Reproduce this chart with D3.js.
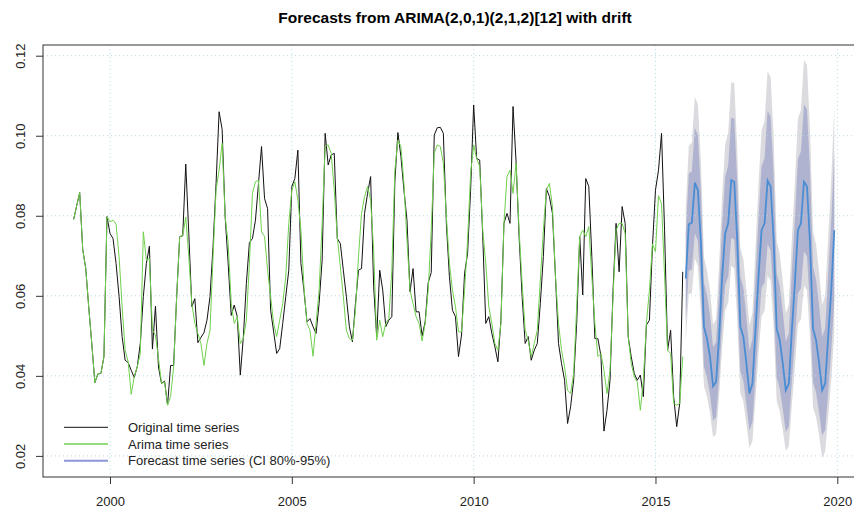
<!DOCTYPE html>
<html>
<head>
<meta charset="utf-8">
<script src="https://cdn.jsdelivr.net/npm/d3@7"></script>
<style>
  body { margin: 0; background: #ffffff; }
  svg { display: block; }
  text { font-family: "Liberation Sans", Arial, Helvetica, sans-serif; }
</style>
</head>
<body>
<svg id="chart" width="854" height="508"></svg>
<script>
// Monthly series, January 1999 onwards
const startYear = 1999;
const observed = [
  0.0791,0.0825,0.0858,0.0716,0.0668,0.0570,0.0480,0.0383,0.0405,0.0406,0.0448,0.0798,
  0.0756,0.0743,0.0681,0.0598,0.0498,0.0439,0.0433,0.0414,0.0396,0.0423,0.0481,0.0598,
  0.0681,0.0724,0.0467,0.0574,0.0422,0.0381,0.0387,0.0327,0.0426,0.0426,0.0598,0.0748,
  0.0750,0.0929,0.0756,0.0573,0.0593,0.0483,0.0496,0.0508,0.0539,0.0598,0.0723,0.0881,
  0.1060,0.1016,0.0798,0.0680,0.0551,0.0577,0.0548,0.0402,0.0497,0.0631,0.0733,0.0743,
  0.0789,0.0881,0.0973,0.0843,0.0818,0.0564,0.0510,0.0456,0.0468,0.0531,0.0598,0.0664,
  0.0873,0.0893,0.0964,0.0681,0.0614,0.0535,0.0543,0.0523,0.0506,0.0581,0.0689,0.1006,
  0.0927,0.0952,0.0956,0.0743,0.0731,0.0664,0.0598,0.0523,0.0485,0.0581,0.0664,0.0668,
  0.0806,0.0856,0.0898,0.0623,0.0498,0.0664,0.0614,0.0523,0.0539,0.0548,0.0885,0.1008,
  0.0948,0.0864,0.0789,0.0610,0.0668,0.0560,0.0560,0.0500,0.0535,0.0633,0.0658,0.1002,
  0.1020,0.1021,0.1006,0.0781,0.0648,0.0564,0.0548,0.0448,0.0502,0.0656,0.0706,0.0864,
  0.1077,0.0943,0.0939,0.0748,0.0531,0.0548,0.0506,0.0473,0.0435,0.0539,0.0781,0.0806,
  0.0781,0.1073,0.0935,0.0748,0.0598,0.0481,0.0498,0.0439,0.0464,0.0481,0.0581,0.0698,
  0.0868,0.0848,0.0806,0.0648,0.0481,0.0431,0.0389,0.0281,0.0323,0.0389,0.0531,0.0748,
  0.0602,0.0893,0.0873,0.0698,0.0493,0.0493,0.0450,0.0262,0.0314,0.0389,0.0614,0.0781,
  0.0660,0.0823,0.0781,0.0498,0.0448,0.0406,0.0389,0.0402,0.0348,0.0527,0.0539,0.0723,
  0.0864,0.0914,0.1006,0.0764,0.0464,0.0514,0.0348,0.0273,0.0331,0.0660
];
const fitted = [
  0.0791,0.0825,0.0858,0.0716,0.0668,0.0570,0.0480,0.0383,0.0405,0.0406,0.0448,0.0798,
  0.0785,0.0789,0.0779,0.0698,0.0573,0.0464,0.0435,0.0354,0.0398,0.0423,0.0456,0.0760,
  0.0689,0.0693,0.0514,0.0502,0.0443,0.0381,0.0385,0.0327,0.0348,0.0422,0.0598,0.0748,
  0.0750,0.0797,0.0698,0.0581,0.0531,0.0506,0.0481,0.0426,0.0481,0.0514,0.0698,0.0864,
  0.0914,0.0981,0.0798,0.0731,0.0581,0.0531,0.0548,0.0481,0.0493,0.0539,0.0680,0.0856,
  0.0885,0.0889,0.0760,0.0748,0.0664,0.0598,0.0531,0.0498,0.0539,0.0581,0.0648,0.0781,
  0.0864,0.0885,0.0839,0.0764,0.0623,0.0531,0.0514,0.0449,0.0531,0.0614,0.0781,0.0973,
  0.0977,0.0956,0.0864,0.0748,0.0673,0.0598,0.0514,0.0493,0.0489,0.0564,0.0698,0.0806,
  0.0848,0.0873,0.0839,0.0714,0.0489,0.0539,0.0498,0.0531,0.0543,0.0664,0.0914,0.0989,
  0.0973,0.0881,0.0739,0.0614,0.0581,0.0548,0.0531,0.0487,0.0531,0.0614,0.0764,0.0956,
  0.0977,0.0973,0.0931,0.0798,0.0681,0.0614,0.0573,0.0510,0.0510,0.0614,0.0739,0.0906,
  0.0977,0.0943,0.0923,0.0764,0.0681,0.0573,0.0531,0.0481,0.0464,0.0531,0.0781,0.0898,
  0.0914,0.0856,0.0931,0.0764,0.0631,0.0514,0.0489,0.0448,0.0481,0.0514,0.0639,0.0764,
  0.0864,0.0881,0.0823,0.0648,0.0531,0.0464,0.0423,0.0364,0.0356,0.0406,0.0573,0.0748,
  0.0764,0.0748,0.0773,0.0648,0.0531,0.0448,0.0456,0.0414,0.0356,0.0414,0.0598,0.0764,
  0.0781,0.0781,0.0756,0.0498,0.0431,0.0398,0.0385,0.0314,0.0389,0.0531,0.0614,0.0730,
  0.0710,0.0850,0.0830,0.0650,0.0464,0.0456,0.0331,0.0327,0.0331,0.0448
];

// Forecast, November 2015 to December 2019
const fcStart = 2015 + 10 / 12;
const fcMean = [
  0.0643,0.0779,
  0.0783,0.0883,0.0864,0.0731,0.0523,0.0493,0.0448,0.0374,0.0385,0.0498,0.0648,0.0756,
  0.0781,0.0889,0.0885,0.0735,0.0523,0.0498,0.0431,0.0356,0.0381,0.0514,0.0648,0.0764,
  0.0781,0.0888,0.0873,0.0739,0.0518,0.0489,0.0431,0.0364,0.0381,0.0514,0.0631,0.0764,
  0.0781,0.0885,0.0873,0.0731,0.0518,0.0489,0.0431,0.0364,0.0381,0.0498,0.0614,0.0764
];
const lo80 = [
  0.0539,0.0663,
  0.0665,0.0756,0.0737,0.0613,0.0423,0.0395,0.0354,0.0288,0.0297,0.0396,0.0530,0.0627,
  0.0648,0.0745,0.0740,0.0603,0.0412,0.0388,0.0329,0.0263,0.0284,0.0399,0.0517,0.0620,
  0.0633,0.0729,0.0714,0.0592,0.0396,0.0369,0.0318,0.0260,0.0274,0.0387,0.0488,0.0605,
  0.0619,0.0711,0.0699,0.0571,0.0384,0.0358,0.0308,0.0251,0.0264,0.0362,0.0461,0.0591
];
const hi80 = [
  0.0757,0.0905,
  0.0911,0.1020,0.1001,0.0859,0.0633,0.0601,0.0553,0.0471,0.0485,0.0612,0.0778,0.0897,
  0.0926,0.1045,0.1043,0.0881,0.0648,0.0621,0.0547,0.0463,0.0493,0.0644,0.0795,0.0924,
  0.0944,0.1063,0.1048,0.0902,0.0657,0.0626,0.0561,0.0485,0.0506,0.0659,0.0792,0.0941,
  0.0961,0.1078,0.1067,0.0911,0.0672,0.0640,0.0575,0.0498,0.0519,0.0655,0.0788,0.0959
];
const lo95 = [
  0.0487,0.0605,
  0.0606,0.0693,0.0674,0.0555,0.0374,0.0348,0.0308,0.0247,0.0255,0.0347,0.0472,0.0563,
  0.0583,0.0675,0.0669,0.0538,0.0358,0.0336,0.0280,0.0219,0.0238,0.0344,0.0453,0.0549,
  0.0562,0.0651,0.0637,0.0521,0.0337,0.0312,0.0265,0.0213,0.0224,0.0328,0.0420,0.0529,
  0.0541,0.0626,0.0614,0.0495,0.0321,0.0297,0.0251,0.0195,0.0211,0.0299,0.0389,0.0509
];
const hi95 = [
  0.0821,0.0975,
  0.0983,0.1097,0.1078,0.0931,0.0696,0.0663,0.0613,0.0528,0.0542,0.0677,0.0852,0.0977,
  0.1008,0.1133,0.1132,0.0963,0.0719,0.0692,0.0614,0.0526,0.0558,0.0718,0.0878,0.1014,
  0.1037,0.1161,0.1146,0.0995,0.0737,0.0705,0.0637,0.0556,0.0579,0.0742,0.0884,0.1043,
  0.1065,0.1189,0.1177,0.1014,0.0761,0.0728,0.0659,0.0577,0.0601,0.0747,0.0890,0.1071
];

const xTicks = [2000, 2005, 2010, 2015, 2020];
const yTicks = [0.02, 0.04, 0.06, 0.08, 0.10, 0.12];
const legendLabels = ["Original time series", "Arima time series", "Forecast time series (CI 80%-95%)"];
const title = "Forecasts from ARIMA(2,0,1)(2,1,2)[12] with drift";

const colObs = "#111111", colFit = "#6fd04d", colFc = "#4a8dd3";
const col80 = "#b0b3d0", col95 = "#dadadf", colLegFc = "#8e96d8";
const colGrid = "#b3d9e6";

const box = { left: 43, top: 45, right: 867, bottom: 477 };
const svg = d3.select("#chart");

const x = d3.scaleLinear().domain([2000, 2020]).range([110, 837.3]);
const y = d3.scaleLinear().domain([0.02, 0.12]).range([455.9, 55.7]);

// Title
svg.append("text")
  .attr("x", (box.left + box.right) / 2).attr("y", 22.5)
  .attr("text-anchor", "middle")
  .style("font-weight", "bold").style("font-size", "15.5px")
  .text(title);

svg.append("clipPath").attr("id", "plotclip")
  .append("rect").attr("x", box.left).attr("y", box.top)
  .attr("width", box.right - box.left).attr("height", box.bottom - box.top);

const plot = svg.append("g").attr("clip-path", "url(#plotclip)");

// Prediction intervals
const fcT = i => fcStart + i / 12;
plot.append("path")
  .attr("d", d3.area().x((d, i) => x(fcT(i))).y0((d, i) => y(lo95[i])).y1((d, i) => y(hi95[i]))(fcMean))
  .attr("fill", col95);
plot.append("path")
  .attr("d", d3.area().x((d, i) => x(fcT(i))).y0((d, i) => y(lo80[i])).y1((d, i) => y(hi80[i]))(fcMean))
  .attr("fill", col80);

// Dotted grid
const grid = plot.append("g").attr("stroke", colGrid).attr("stroke-width", 1).attr("stroke-dasharray", "1,3");
grid.selectAll("line.v").data(xTicks).join("line")
  .attr("x1", d => x(d)).attr("x2", d => x(d)).attr("y1", box.top).attr("y2", box.bottom);
grid.selectAll("line.h").data(yTicks).join("line")
  .attr("y1", d => y(d)).attr("y2", d => y(d)).attr("x1", box.left).attr("x2", box.right);

// Series lines
const obsLine = d3.line().x((d, i) => x(startYear + i / 12)).y(d => y(d));
plot.append("path").attr("d", obsLine(observed))
  .attr("fill", "none").attr("stroke", colObs).attr("stroke-width", 1);
plot.append("path").attr("d", obsLine(fitted))
  .attr("fill", "none").attr("stroke", colFit).attr("stroke-width", 1);
plot.append("path").attr("d", d3.line().x((d, i) => x(fcT(i))).y(d => y(d))(fcMean))
  .attr("fill", "none").attr("stroke", colFc).attr("stroke-width", 1.8);

// Frame
svg.append("rect").attr("x", box.left).attr("y", box.top)
  .attr("width", box.right - box.left).attr("height", box.bottom - box.top)
  .attr("fill", "none").attr("stroke", "#333333").attr("stroke-width", 1);

// Axes
const xAxis = svg.append("g").attr("transform", `translate(0,${box.bottom})`)
  .call(d3.axisBottom(x).tickValues(xTicks).tickSize(7).tickPadding(13).tickFormat(d3.format("d")));
const yAxis = svg.append("g").attr("transform", `translate(${box.left},0)`)
  .call(d3.axisLeft(y).tickValues(yTicks).tickSize(7).tickFormat(d3.format(".2f")));
[xAxis, yAxis].forEach(a => {
  a.select(".domain").remove();
  a.selectAll(".tick line").attr("stroke", "#333333");
  a.selectAll(".tick text").attr("fill", "#222222").style("font-size", "13px")
    .style("font-family", "'Liberation Sans', Arial, sans-serif");
});
yAxis.selectAll(".tick text")
  .attr("x", null).attr("dy", null)
  .attr("text-anchor", "middle")
  .attr("transform", "translate(-18,0) rotate(-90)");

// Legend
const legColors = [colObs, colFit, colLegFc];
const legWidths = [1, 1.5, 2];
const leg = svg.append("g");
legendLabels.forEach((lab, i) => {
  const ly = 427.3 + i * 16.7;
  leg.append("line").attr("x1", 64).attr("x2", 108).attr("y1", ly).attr("y2", ly)
    .attr("stroke", legColors[i]).attr("stroke-width", legWidths[i]);
  leg.append("text").attr("x", 128).attr("y", ly).attr("dy", "0.35em")
    .style("font-size", "13px").attr("fill", "#222222").text(lab);
});
</script>
</body>
</html>
